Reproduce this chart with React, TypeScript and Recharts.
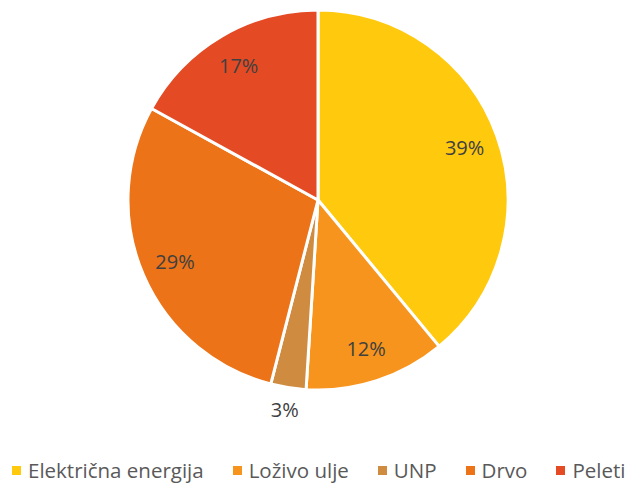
import { PieChart, Pie, Cell, Legend } from "recharts"

const categories = ["Električna energija", "Loživo ulje", "UNP", "Drvo", "Peleti"]
const shares = [39, 12, 3, 29, 17]
const colors = ["#FFC90E", "#F7941D", "#CF8B3F", "#EC7318", "#E44B25"]

const data = categories.map((name, i) => ({ name, value: shares[i] }))

const RAD = Math.PI / 180

const renderLabel = (props: any) => {
  const { cx, cy, midAngle, outerRadius, value } = props
  const r = value < 5 ? outerRadius + 22 : outerRadius * 0.82
  const x = cx + r * Math.cos(-midAngle * RAD)
  const y = cy + r * Math.sin(-midAngle * RAD)
  return (
    <text x={x} y={y} fill="#404040" fontSize={20} textAnchor="middle" dominantBaseline="central">
      {`${value}%`}
    </text>
  )
}

const renderLegend = () => (
  <div style={{ display: "flex", gap: 29, paddingLeft: 12, fontSize: 20.5, color: "#595959", whiteSpace: "nowrap" }}>
    {categories.map((c, i) => (
      <span key={c} style={{ display: "flex", alignItems: "center" }}>
        <span style={{ width: 9, height: 9, background: colors[i], display: "inline-block", marginRight: 7 }} />
        {c}
      </span>
    ))}
  </div>
)

export default function App() {
  return (
    <div style={{ margin: "-8px 0 0 -8px", fontFamily: "'Open Sans', sans-serif" }}>
      <PieChart width={637} height={487}>
        <Pie
          data={data}
          dataKey="value"
          cx={313}
          cy={195}
          outerRadius={190}
          startAngle={90}
          endAngle={-270}
          stroke="#fff"
          strokeWidth={3}
          label={renderLabel}
          labelLine={false}
          isAnimationActive={false}
        >
          {data.map((d, i) => (
            <Cell key={d.name} fill={colors[i]} />
          ))}
        </Pie>
        <Legend content={renderLegend} wrapperStyle={{ top: 456, left: 0, width: 637 }} />
      </PieChart>
    </div>
  )
}
